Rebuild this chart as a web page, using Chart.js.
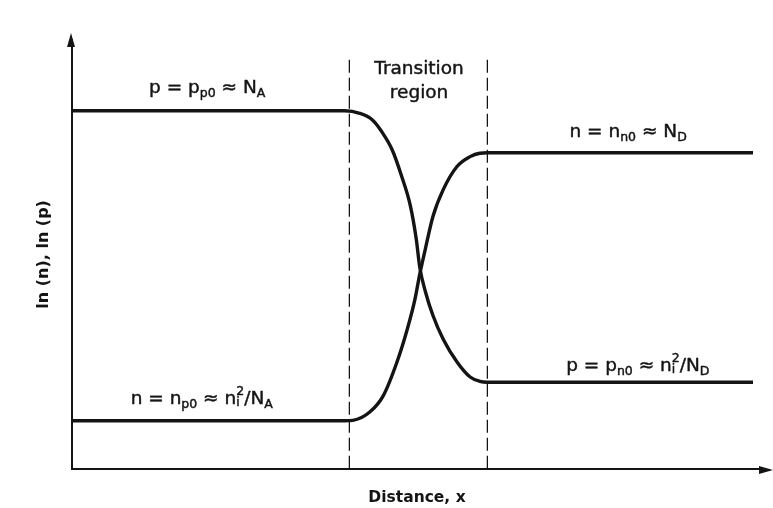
<!DOCTYPE html>
<html>
<head>
<meta charset="utf-8">
<script src="https://cdn.jsdelivr.net/npm/chart.js@4.4.1/dist/chart.umd.min.js"></script>
<style>
  html, body { margin: 0; padding: 0; background: #ffffff; }
  canvas { display: block; }
</style>
</head>
<body>
<canvas id="junction" width="773" height="508"></canvas>
<script>
// Carrier concentration across an abrupt p-n junction, ln scale, arbitrary units.
// Hole concentration p(x): high on the p side, drops through the transition region.
const P_X = [0, 39.5, 41.7, 43.5, 44.9, 46.4, 47.8, 49.0, 49.9, 50.4, 51.2, 52.3, 53.8, 55.8, 57.7, 59.1, 60.2, 98.7];
const P_Y = [83.5, 83.5, 82.9, 81.4, 78.6, 74.4, 68.1, 61.6, 53.5, 47.0, 41.4, 35.8, 30.2, 24.9, 21.4, 20.4, 20.2, 20.2];
// Electron concentration n(x): low on the p side, rises to the n-side level.
const N_X = [0, 39.5, 40.7, 43.2, 45.1, 47.1, 48.6, 49.7, 50.4, 51.2, 52.3, 53.8, 55.8, 57.7, 59.1, 60.2, 98.7];
const N_Y = [11.2, 11.2, 11.3, 13.3, 17.0, 24.9, 32.6, 39.5, 45.4, 51.2, 58.8, 65.1, 70.5, 72.8, 73.6, 73.7, 73.7];
// Edges of the transition region and the vertical extent of the marker lines.
const EDGE_X = [40.2, 60.2];
const EDGE_Y = [0, 96];
// Axis extents.
const X_RANGE = [0, 100];
const Y_RANGE = [0, 100];

// Label texts as runs: [text] normal, [text,'sub'], [[sub,sup],'subsup'].
const TXT_P_SIDE_P = [['p = p'], ['p0', 'sub'], [' \u2248 N'], ['A', 'sub']];
const TXT_P_SIDE_N = [['n = n'], ['p0', 'sub'], [' \u2248 n'], [['i', '2'], 'subsup'], ['/N'], ['A', 'sub']];
const TXT_N_SIDE_N = [['n = n'], ['n0', 'sub'], [' \u2248 N'], ['D', 'sub']];
const TXT_N_SIDE_P = [['p = p'], ['n0', 'sub'], [' \u2248 n'], [['i', '2'], 'subsup'], ['/N'], ['D', 'sub']];
const TXT_REGION = ['Transition', 'region'];
const TITLE_X = 'Distance, x';
const TITLE_Y = 'ln (n), ln (p)';

const INK = '#141414';
const FAMILY = '"DejaVu Sans", "Liberation Sans", sans-serif';
const MAIN_PX = 18.5;
const SMALL_PX = 12.5;

const toPoints = (xs, ys) => xs.map((v, i) => ({ x: v, y: ys[i] }));

// Annotation anchors (data units): centre x, baseline y.
const annotations = [
  { runs: TXT_P_SIDE_P, x: 19.6, y: 87.7 },
  { runs: TXT_P_SIDE_N, x: 18.8, y: 15.1 },
  { runs: TXT_N_SIDE_N, x: 80.6, y: 77.4 },
  { runs: TXT_N_SIDE_P, x: 82.0, y: 22.9 },
  { runs: [[TXT_REGION[0]]], x: 50.3, y: 92.1 },
  { runs: [[TXT_REGION[1]]], x: 50.3, y: 86.5 }
];

function runWidth(ctx, run) {
  const [t, kind] = run;
  if (!kind) { ctx.font = `${MAIN_PX}px ${FAMILY}`; return ctx.measureText(t).width; }
  ctx.font = `${SMALL_PX}px ${FAMILY}`;
  if (kind === 'subsup') return Math.max(ctx.measureText(t[0]).width, ctx.measureText(t[1]).width);
  return ctx.measureText(t).width;
}

function putText(ctx, t, x, y) {
  ctx.strokeText(t, x, y);
  ctx.fillText(t, x, y);
}

const richLabels = {
  id: 'richLabels',
  afterDatasetsDraw(chart) {
    const { ctx, scales: { x, y } } = chart;
    ctx.save();
    ctx.fillStyle = INK;
    ctx.strokeStyle = INK;
    ctx.lineWidth = 0.45;
    ctx.lineJoin = 'round';
    ctx.textBaseline = 'alphabetic';
    ctx.textAlign = 'left';
    for (const a of annotations) {
      const widths = a.runs.map(r => runWidth(ctx, r));
      const total = widths.reduce((s, w) => s + w, 0);
      let cx = x.getPixelForValue(a.x) - total / 2;
      const by = y.getPixelForValue(a.y);
      a.runs.forEach((r, i) => {
        const [t, kind] = r;
        if (!kind) {
          ctx.font = `${MAIN_PX}px ${FAMILY}`;
          putText(ctx, t, cx, by);
        } else {
          ctx.font = `${SMALL_PX}px ${FAMILY}`;
          if (kind === 'sub') putText(ctx, t, cx, by + 4);
          else { putText(ctx, t[0], cx, by + 2); putText(ctx, t[1], cx, by - 9); }
        }
        cx += widths[i];
      });
    }
    ctx.restore();
  }
};

// Extends both axes past the plot area and caps them with arrowheads.
const axisArrows = {
  id: 'axisArrows',
  afterDraw(chart) {
    const { ctx, chartArea: { left, top, bottom, right } } = chart;
    const ax = Math.round(left) - 1;
    const ay = Math.round(bottom) + 1;
    ctx.save();
    ctx.strokeStyle = INK;
    ctx.fillStyle = INK;
    ctx.lineWidth = 2;
    ctx.beginPath();
    ctx.moveTo(ax, top + 2); ctx.lineTo(ax, top - 4);
    ctx.moveTo(right - 2, ay); ctx.lineTo(right + 8, ay);
    ctx.stroke();
    ctx.beginPath();
    ctx.moveTo(ax, top - 7); ctx.lineTo(ax - 4, top + 7); ctx.lineTo(ax + 4, top + 7); ctx.closePath();
    ctx.fill();
    ctx.beginPath();
    ctx.moveTo(right + 11, ay); ctx.lineTo(right - 3, ay - 4); ctx.lineTo(right - 3, ay + 4); ctx.closePath();
    ctx.fill();
    ctx.restore();
  }
};

const curveStyle = {
  borderColor: INK, borderWidth: 3.4, pointRadius: 0,
  cubicInterpolationMode: 'monotone', fill: false
};
const edgeStyle = {
  borderColor: INK, borderWidth: 1.3, borderDash: [13, 5], pointRadius: 0, fill: false
};

new Chart(document.getElementById('junction'), {
  type: 'line',
  data: {
    datasets: [
      { label: 'p', data: toPoints(P_X, P_Y), ...curveStyle },
      { label: 'n', data: toPoints(N_X, N_Y), ...curveStyle },
      { label: 'edge-p', data: toPoints([EDGE_X[0], EDGE_X[0]], EDGE_Y), ...edgeStyle },
      { label: 'edge-n', data: toPoints([EDGE_X[1], EDGE_X[1]], EDGE_Y), ...edgeStyle }
    ]
  },
  options: {
    responsive: false,
    animation: false,
    layout: { padding: { left: 30.4, top: 40, right: 11, bottom: 1.2 } },
    plugins: { legend: { display: false }, tooltip: { enabled: false } },
    scales: {
      x: {
        type: 'linear', min: X_RANGE[0], max: X_RANGE[1],
        grid: { display: false, drawTicks: false },
        ticks: { display: false },
        border: { display: true, color: INK, width: 2 },
        title: {
          display: true, text: TITLE_X, color: INK,
          font: { family: FAMILY, size: 15.5, weight: 'bold' },
          padding: { top: 19.4, bottom: 0 }
        }
      },
      y: {
        type: 'linear', min: Y_RANGE[0], max: Y_RANGE[1],
        grid: { display: false, drawTicks: false },
        ticks: { display: false },
        border: { display: true, color: INK, width: 2 },
        title: {
          display: true, text: TITLE_Y, color: INK,
          font: { family: FAMILY, size: 16, weight: 'bold' },
          padding: { top: 4, bottom: 18.4 }
        }
      }
    }
  },
  plugins: [richLabels, axisArrows]
});
</script>
</body>
</html>
